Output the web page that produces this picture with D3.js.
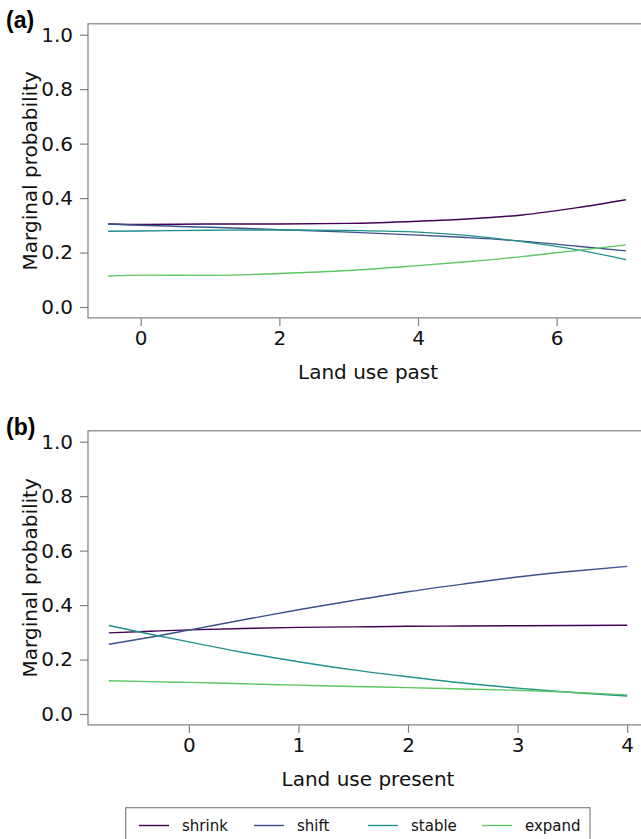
<!DOCTYPE html>
<html>
<head>
<meta charset="utf-8">
<script src="https://cdn.jsdelivr.net/npm/d3@7"></script>
<style>
  html, body { margin: 0; padding: 0; background: #fff; }
  svg { display: block; }
</style>
</head>
<body>
<svg id="chart" width="641" height="839"></svg>
<script>
// ---------- DATA ----------
const seriesNames = ["shrink", "shift", "stable", "expand"];
const seriesColors = ["#440154", "#3B528B", "#21908C", "#5DC863"];

// Panel (a): Land use past
const xPast = [-0.47, 0, 1, 2, 3, 4, 4.7, 5.5, 6.3, 7];
const pastShrink = [0.305, 0.303, 0.305, 0.305, 0.307, 0.315, 0.323, 0.338, 0.365, 0.394];
const pastShift  = [0.305, 0.300, 0.293, 0.284, 0.275, 0.264, 0.255, 0.242, 0.223, 0.206];
const pastStable = [0.278, 0.279, 0.282, 0.283, 0.281, 0.275, 0.263, 0.240, 0.210, 0.174];
const pastExpand = [0.114, 0.117, 0.116, 0.123, 0.134, 0.152, 0.166, 0.185, 0.208, 0.228];

// Panel (b): Land use present
const xPresent = [-0.73, -0.35, 0, 0.5, 1, 1.5, 2, 2.5, 3, 3.5, 4];
const presShrink = [0.298, 0.304, 0.309, 0.314, 0.318, 0.320, 0.322, 0.323, 0.324, 0.325, 0.326];
const presShift  = [0.256, 0.282, 0.308, 0.346, 0.383, 0.417, 0.449, 0.477, 0.503, 0.524, 0.542];
const presStable = [0.325, 0.293, 0.265, 0.226, 0.192, 0.162, 0.137, 0.114, 0.095, 0.079, 0.066];
const presExpand = [0.122, 0.119, 0.116, 0.111, 0.106, 0.101, 0.097, 0.092, 0.087, 0.080, 0.070];

const yTicks = [0, 0.2, 0.4, 0.6, 0.8, 1.0];
const xTicksPast = [0, 2, 4, 6];
const xTicksPresent = [0, 1, 2, 3, 4];

// ---------- DRAW ----------
const svg = d3.select("#chart");
const axisColor = "#808080";
const font = "DejaVu Sans, sans-serif";

function panel(opts) {
  const g = svg.append("g");
  const x = d3.scaleLinear().domain(opts.xDomain).range([opts.left, opts.right]);
  const y = d3.scaleLinear().domain([-0.04, 1.04]).range([opts.bottom, opts.top]);

  // box
  g.append("rect")
    .attr("x", opts.left).attr("y", opts.top)
    .attr("width", opts.right - opts.left).attr("height", opts.bottom - opts.top)
    .attr("fill", "none").attr("stroke", axisColor).attr("stroke-width", 1.2);

  // y axis
  const ya = g.append("g").attr("transform", `translate(${opts.left},0)`)
    .call(d3.axisLeft(y).tickValues(yTicks).tickFormat(d3.format(".1f")).tickSize(8).tickPadding(7));
  ya.select(".domain").remove();
  ya.selectAll(".tick line").attr("stroke", axisColor).attr("stroke-width", 1.2);
  ya.selectAll(".tick text").attr("font-family", font).attr("font-size", 20).attr("fill", "#111");

  // x axis
  const xa = g.append("g").attr("transform", `translate(0,${opts.bottom})`)
    .call(d3.axisBottom(x).tickValues(opts.xTicks).tickFormat(d3.format("d")).tickSize(8).tickPadding(5));
  xa.select(".domain").remove();
  xa.selectAll(".tick line").attr("stroke", axisColor).attr("stroke-width", 1.2);
  xa.selectAll(".tick text").attr("font-family", font).attr("font-size", 20).attr("fill", "#111");

  // lines
  const line = d3.line().x(d => x(d[0])).y(d => y(d[1])).curve(d3.curveMonotoneX);
  opts.series.forEach((vals, i) => {
    const pts = opts.xs.map((xv, j) => [xv, vals[j]]);
    g.append("path").datum(pts)
      .attr("d", line)
      .attr("fill", "none")
      .attr("stroke", seriesColors[i])
      .attr("stroke-width", 1.4);
  });

  // axis labels
  g.append("text")
    .attr("x", (opts.left + opts.right) / 2).attr("y", opts.bottom + 61)
    .attr("text-anchor", "middle")
    .attr("font-family", font).attr("font-size", 20).attr("fill", "#111")
    .text(opts.xLabel);
  g.append("text")
    .attr("transform", `translate(37,${(opts.top + opts.bottom) / 2}) rotate(-90)`)
    .attr("text-anchor", "middle")
    .attr("font-family", font).attr("font-size", 20).attr("fill", "#111")
    .text("Marginal probability");

  // panel tag
  g.append("text")
    .attr("x", 6).attr("y", opts.top + 4)
    .attr("font-family", "Liberation Sans, Arial, sans-serif")
    .attr("font-weight", "bold").attr("font-size", 23).attr("fill", "#000")
    .text(opts.tag);
}

panel({
  tag: "(a)", xLabel: "Land use past",
  left: 88, right: 648.2, top: 23.8, bottom: 317.9,
  xDomain: [-0.76, 7.32], xTicks: xTicksPast,
  xs: xPast, series: [pastShrink, pastShift, pastStable, pastExpand]
});

panel({
  tag: "(b)", xLabel: "Land use present",
  left: 88, right: 648, top: 430.8, bottom: 724.9,
  xDomain: [-0.92, 4.19], xTicks: xTicksPresent,
  xs: xPresent, series: [presShrink, presShift, presStable, presExpand]
});

// legend
const lg = svg.append("g");
lg.append("rect")
  .attr("x", 125.7).attr("y", 807.7).attr("width", 464.3).attr("height", 50)
  .attr("fill", "#fff").attr("stroke", axisColor).attr("stroke-width", 1.2);
const legendX = [139, 254, 368, 482];
seriesNames.forEach((name, i) => {
  lg.append("line")
    .attr("x1", legendX[i]).attr("x2", legendX[i] + 30)
    .attr("y1", 825.5).attr("y2", 825.5)
    .attr("stroke", seriesColors[i]).attr("stroke-width", 1.4);
  lg.append("text")
    .attr("x", legendX[i] + 43).attr("y", 831)
    .attr("font-family", font).attr("font-size", 15).attr("fill", "#111")
    .text(name);
});
</script>
</body>
</html>
